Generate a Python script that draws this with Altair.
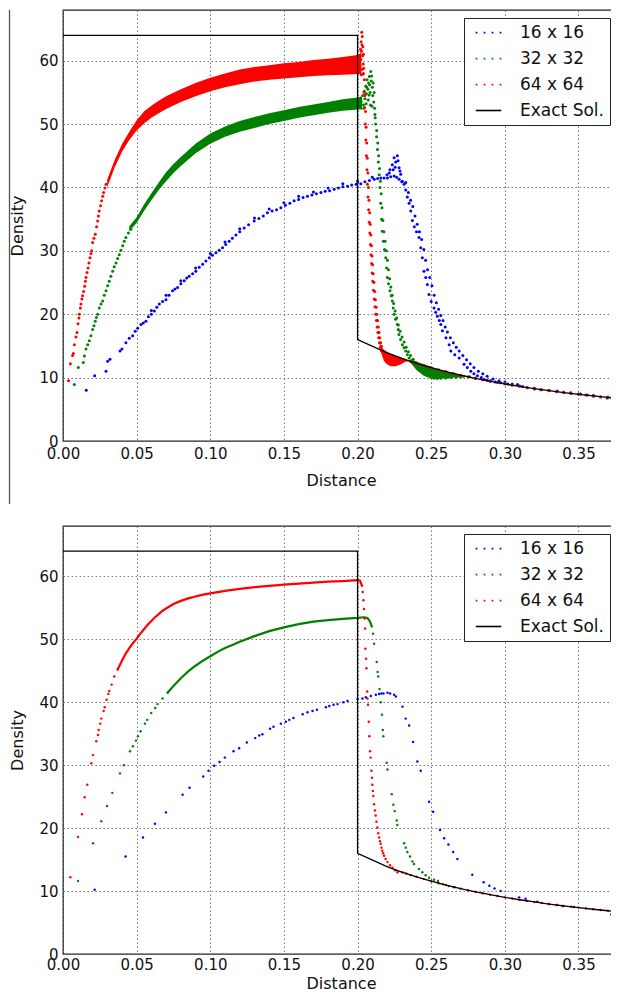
import altair as alt
import pandas as pd

SERIES = ["16 x 16", "32 x 32", "64 x 64", "Exact Sol."]
COLORS = ["#0000ff", "#008000", "#ff0000", "#000000"]
X_TICKS = [0.0, 0.05, 0.10, 0.15, 0.20, 0.25, 0.30, 0.35]
Y_TICKS = [0, 10, 20, 30, 40, 50, 60]

# ---------------- exact solution ----------------
exact_x = [0.0, 0.2, 0.2, 0.22, 0.23, 0.24, 0.25, 0.26, 0.27, 0.28, 0.29, 0.30,
           0.31, 0.32, 0.33, 0.34, 0.35, 0.36, 0.37, 0.3775]
exact_y = [64, 64, 16, 13.89, 13.02, 12.25, 11.56, 10.94, 10.38, 9.88, 9.42, 9.00,
           8.62, 8.27, 7.94, 7.64, 7.37, 7.11, 6.87, 6.70]

red_on_line = [(0.236, 12.55), (0.24, 12.27), (0.245, 11.9), (0.25, 11.57), (0.255, 11.25),
               (0.26, 10.95), (0.265, 10.66), (0.27, 10.39), (0.275, 10.13), (0.28, 9.88),
               (0.285, 9.65), (0.29, 9.42), (0.295, 9.21), (0.30, 9.0), (0.305, 8.81),
               (0.31, 8.62), (0.315, 8.44), (0.32, 8.27), (0.325, 8.1), (0.33, 7.94),
               (0.335, 7.79), (0.34, 7.64), (0.345, 7.5), (0.35, 7.37), (0.355, 7.24),
               (0.36, 7.11), (0.365, 6.99), (0.37, 6.87), (0.375, 6.76)]

# ---------------- top panel ----------------
t_blue_main = [(0.0158, 8.0), (0.0215, 10.3), (0.0292, 11.0), (0.0303, 12.6), (0.0319, 12.9),
               (0.0387, 14.2), (0.04, 14.5), (0.0427, 15.5), (0.045, 16.2), (0.0473, 16.6),
               (0.049, 17.3), (0.0507, 17.8), (0.0529, 18.4), (0.0545, 18.6), (0.0563, 18.9),
               (0.058, 19.6), (0.06, 20.0), (0.062, 20.5), (0.0637, 21.1), (0.0654, 21.6),
               (0.0676, 22.0), (0.0699, 22.3), (0.072, 23.0), (0.0744, 23.7), (0.076, 24.0),
               (0.0778, 24.2), (0.08, 24.8), (0.0823, 25.3), (0.084, 25.7), (0.0857, 26.0),
               (0.088, 26.4), (0.0902, 26.8), (0.0925, 27.4), (0.0948, 27.9), (0.097, 28.4),
               (0.0993, 28.9), (0.1015, 29.3), (0.1038, 29.7), (0.106, 30.1), (0.1083, 30.5),
               (0.1105, 31.0), (0.1128, 31.5), (0.115, 32.0), (0.1174, 32.5), (0.12, 33.0),
               (0.123, 33.6), (0.126, 34.1), (0.1298, 34.7), (0.133, 35.1), (0.136, 35.5),
               (0.1388, 36.0), (0.142, 36.3), (0.145, 36.5), (0.1479, 36.8), (0.151, 37.2),
               (0.154, 37.5), (0.1569, 37.9), (0.16, 38.1), (0.163, 38.4), (0.166, 38.6),
               (0.169, 38.8), (0.172, 39.0), (0.1751, 39.2), (0.178, 39.4), (0.181, 39.5),
               (0.1841, 39.7), (0.187, 39.9), (0.19, 40.1), (0.1932, 40.2), (0.196, 40.4),
               (0.199, 40.5), (0.2022, 40.6), (0.205, 40.9), (0.208, 41.1), (0.2113, 41.3),
               (0.2136, 41.4), (0.2158, 41.5), (0.218, 41.5), (0.2203, 41.5), (0.2225, 41.7),
               (0.2248, 41.8), (0.2265, 41.6), (0.2282, 41.3), (0.23, 40.9), (0.2316, 40.5),
               (0.2327, 39.6), (0.2338, 38.5), (0.235, 37.5), (0.2361, 36.3), (0.2372, 34.8),
               (0.2385, 33.8), (0.24, 33.0), (0.2417, 32.1), (0.2429, 30.5), (0.244, 28.9),
               (0.2451, 26.8), (0.2463, 25.8), (0.2474, 24.7), (0.2485, 23.1), (0.25, 22.0),
               (0.2519, 21.0), (0.253, 20.3), (0.2542, 19.7), (0.2555, 19.0), (0.2565, 18.4),
               (0.2576, 17.4), (0.26, 16.3), (0.2622, 15.2), (0.2633, 14.2), (0.266, 13.6),
               (0.269, 13.1), (0.2723, 12.1), (0.2745, 11.6), (0.2769, 11.0), (0.279, 10.6),
               (0.2814, 10.3), (0.284, 10.0), (0.286, 9.7), (0.288, 9.6), (0.2904, 9.5),
               (0.2935, 9.3), (0.2972, 9.2), (0.302, 9.0), (0.3085, 8.9), (0.312, 8.6),
               (0.3153, 8.4), (0.32, 8.2), (0.3244, 8.1), (0.33, 7.95), (0.3356, 7.9),
               (0.34, 7.7), (0.3447, 7.6), (0.3514, 7.4), (0.356, 7.25), (0.3605, 7.1),
               (0.365, 6.95), (0.3695, 6.8), (0.373, 6.5), (0.3763, 6.4)]
t_blue_spike = [(0.2215, 42.3), (0.222, 42.8), (0.2236, 43.6), (0.2242, 42.8), (0.2248, 44.7),
                (0.2255, 43.2), (0.2259, 44.0), (0.227, 45.0), (0.2275, 44.2), (0.2282, 43.1),
                (0.2288, 42.6), (0.2293, 42.1), (0.2304, 41.0)]
t_blue_side = [(0.06, 20.6), (0.07, 23.0), (0.08, 25.3), (0.09, 27.3), (0.1, 29.6), (0.11, 31.4),
               (0.12, 33.5), (0.13, 35.2), (0.14, 36.6), (0.15, 37.6), (0.16, 38.6), (0.17, 39.3),
               (0.18, 39.9), (0.19, 40.6), (0.2, 41.0), (0.21, 41.6), (0.22, 42.0),
               (0.2327, 40.8), (0.2345, 39.2), (0.236, 38.0), (0.2375, 37.0), (0.239, 35.5),
               (0.2405, 34.2), (0.242, 33.0), (0.2435, 31.8), (0.245, 30.2), (0.2462, 28.5),
               (0.2475, 27.0), (0.249, 25.8), (0.2505, 24.5), (0.252, 23.0), (0.2535, 21.8),
               (0.255, 20.8), (0.2565, 19.8), (0.258, 19.0), (0.2595, 18.0), (0.261, 17.2),
               (0.263, 16.3), (0.265, 15.5), (0.267, 14.8), (0.269, 14.2), (0.2715, 13.5),
               (0.274, 12.8), (0.2765, 12.2), (0.279, 11.6), (0.282, 11.0), (0.285, 10.6),
               (0.288, 10.2), (0.292, 9.8), (0.296, 9.5), (0.30, 9.3), (0.305, 9.0)]

t_green_rise = [(0.0077, 8.9), (0.0104, 11.6), (0.0138, 12.4), (0.0145, 13.4), (0.0156, 14.5),
                (0.0168, 15.2), (0.0179, 15.8), (0.019, 16.6), (0.0201, 17.6), (0.021, 18.2),
                (0.0219, 18.9), (0.0227, 19.5), (0.0235, 20.0), (0.0246, 21.0), (0.0258, 21.6),
                (0.0269, 22.1), (0.028, 23.0), (0.0292, 23.7), (0.0303, 24.5), (0.0314, 25.2),
                (0.0325, 26.0), (0.0337, 26.8), (0.0348, 27.5), (0.036, 28.1), (0.0371, 28.8),
                (0.0382, 29.4), (0.0393, 30.1), (0.0405, 30.8), (0.0416, 31.5), (0.0427, 32.1),
                (0.0444, 32.8), (0.0461, 33.4)]
t_green_spike = [(0.2025, 53.5), (0.2035, 54.5), (0.204, 53.0), (0.2045, 55.2), (0.205, 54.0),
                 (0.2055, 56.0), (0.206, 54.8), (0.2065, 57.0), (0.207, 55.5), (0.2075, 56.5),
                 (0.208, 57.5), (0.2085, 55.0), (0.209, 58.3), (0.2093, 56.8), (0.2096, 57.6),
                 (0.21, 55.8), (0.2103, 54.5), (0.2106, 56.5), (0.211, 53.5), (0.2113, 55.0),
                 (0.2116, 52.5), (0.212, 51.0), (0.2042, 52.5), (0.2058, 53.2), (0.2072, 53.8),
                 (0.2088, 53.0), (0.2098, 52.8), (0.2078, 54.6), (0.2062, 55.8), (0.2082, 56.2)]
t_green_fall_a = [(0.2118, 51.5), (0.2123, 50.0), (0.2129, 48.0), (0.2135, 46.0), (0.2141, 44.0),
                  (0.2147, 42.0), (0.2152, 40.0), (0.2157, 37.5), (0.2163, 35.0), (0.2168, 33.1),
                  (0.2175, 31.5), (0.2183, 30.2), (0.2191, 28.9), (0.2197, 27.3), (0.2202, 25.8),
                  (0.221, 24.8), (0.222, 23.7), (0.2228, 22.9), (0.2236, 22.1), (0.2242, 21.0),
                  (0.2248, 20.0), (0.2258, 19.2), (0.227, 18.4), (0.2276, 17.6), (0.2281, 16.8),
                  (0.2292, 16.0), (0.2304, 15.2), (0.2315, 14.7), (0.2327, 14.2), (0.2338, 13.6),
                  (0.235, 13.1), (0.2367, 12.5), (0.2384, 12.1), (0.2405, 11.5), (0.2429, 11.0),
                  (0.245, 10.6), (0.2474, 10.3), (0.2497, 10.05), (0.2519, 9.9), (0.2542, 9.85),
                  (0.2565, 9.9), (0.26, 9.95), (0.2633, 10.0), (0.2667, 10.05), (0.2701, 10.1)]
t_green_fall_b = [(0.213, 49.0), (0.2137, 47.0), (0.2143, 45.0), (0.2149, 43.0), (0.2155, 41.0),
                  (0.216, 39.0), (0.2166, 36.8), (0.2172, 34.8), (0.2179, 33.0), (0.2187, 31.5),
                  (0.2195, 30.0), (0.2203, 28.5), (0.221, 27.0), (0.2218, 25.6), (0.2226, 24.3),
                  (0.2235, 23.0), (0.2245, 21.7), (0.2255, 20.5), (0.2265, 19.4), (0.2277, 18.3),
                  (0.2289, 17.3), (0.2302, 16.4), (0.2316, 15.6), (0.233, 14.8), (0.2345, 14.1),
                  (0.236, 13.5), (0.2378, 12.9), (0.2397, 12.4), (0.242, 11.9), (0.2445, 11.4),
                  (0.247, 11.0), (0.25, 10.7), (0.253, 10.5), (0.256, 10.4), (0.26, 10.3),
                  (0.264, 10.25), (0.268, 10.2), (0.272, 10.2), (0.276, 10.15)]
t_green_tail = [(0.28, 9.95), (0.29, 9.5), (0.30, 9.1), (0.31, 8.7), (0.32, 8.35), (0.33, 8.0),
                (0.34, 7.7), (0.35, 7.45), (0.36, 7.2), (0.37, 6.95), (0.375, 6.85)]

t_red_rise = [(0.0038, 9.5), (0.005, 12.2), (0.0065, 13.5), (0.007, 13.8), (0.0077, 15.2),
              (0.0088, 16.4), (0.0095, 17.1), (0.0102, 18.5), (0.0108, 19.4), (0.0111, 20.0),
              (0.0118, 21.0), (0.0122, 21.6), (0.0128, 22.4), (0.0133, 22.9), (0.014, 23.6),
              (0.0147, 24.4), (0.0152, 25.2), (0.0156, 25.8), (0.0163, 26.6), (0.017, 27.3),
              (0.0176, 28.1), (0.0183, 28.9), (0.019, 29.6), (0.0194, 30.0), (0.0201, 31.3),
              (0.021, 32.0), (0.0219, 32.6), (0.0228, 33.8), (0.0235, 34.7), (0.024, 35.5),
              (0.0246, 36.3), (0.0255, 37.1), (0.0262, 37.9), (0.027, 38.6), (0.0276, 39.2),
              (0.0285, 39.9), (0.0292, 40.5)]
t_red_spike = [(0.2012, 58.5), (0.2015, 60.5), (0.2018, 59.2), (0.202, 61.8), (0.2022, 60.2),
               (0.2024, 63.0), (0.2026, 61.5), (0.2028, 64.5), (0.203, 62.5), (0.2032, 63.8),
               (0.2034, 60.8), (0.2036, 62.2), (0.2038, 59.5), (0.204, 61.0), (0.2042, 58.8),
               (0.2025, 57.8), (0.2031, 58.6), (0.2037, 57.9)]
t_red_fall_a = [(0.204, 58.0), (0.2044, 55.0), (0.2048, 52.6), (0.2052, 50.0), (0.2056, 47.5),
                (0.206, 45.0), (0.2064, 42.8), (0.2067, 40.5), (0.2071, 38.5), (0.2075, 36.5),
                (0.2079, 34.5), (0.2083, 32.8), (0.2087, 31.0), (0.2091, 29.4), (0.2095, 28.0),
                (0.2099, 26.5), (0.2103, 25.2), (0.2108, 23.8), (0.2113, 22.4), (0.2118, 21.2),
                (0.2123, 20.0), (0.2128, 19.0), (0.2133, 18.0), (0.2138, 17.1), (0.2143, 16.3),
                (0.2148, 15.5), (0.2155, 14.8), (0.2162, 14.2)]
t_red_fall_b = [(0.2046, 57.0), (0.205, 54.5), (0.2054, 52.0), (0.2058, 49.5), (0.2062, 47.0),
                (0.2066, 44.6), (0.207, 42.3), (0.2074, 40.0), (0.2078, 38.0), (0.2082, 36.0),
                (0.2086, 34.2), (0.209, 32.5), (0.2094, 30.8), (0.2098, 29.2), (0.2102, 27.8),
                (0.2106, 26.4), (0.2111, 25.0), (0.2116, 23.6), (0.2121, 22.3), (0.2126, 21.1),
                (0.2131, 20.0), (0.2136, 19.0), (0.2141, 18.0), (0.2146, 17.1), (0.2151, 16.3),
                (0.2157, 15.5), (0.2163, 14.9)]

# dense bands of the top panel (x, lower, upper)
t_red_band = [(0.030, 40.0, 41.2), (0.035, 43.1, 44.3), (0.040, 45.6, 46.8), (0.045, 47.5, 48.8),
              (0.050, 49.0, 50.6), (0.055, 50.1, 52.0), (0.060, 51.0, 52.9), (0.065, 51.7, 53.7),
              (0.070, 52.4, 54.4), (0.080, 53.5, 55.5), (0.090, 54.4, 56.5), (0.100, 55.2, 57.3),
              (0.110, 55.8, 58.0), (0.120, 56.3, 58.6), (0.130, 56.7, 59.0), (0.140, 57.0, 59.3),
              (0.150, 57.2, 59.6), (0.160, 57.4, 59.8), (0.170, 57.6, 60.1), (0.180, 57.7, 60.3),
              (0.190, 57.8, 60.6), (0.200, 57.9, 60.9), (0.2025, 57.9, 61.3)]
t_red_blob = [(0.2150, 14.6, 15.6), (0.2165, 13.6, 14.7), (0.2180, 12.6, 14.4), (0.2200, 12.1, 14.1),
              (0.2225, 11.8, 13.8), (0.2260, 11.8, 13.5), (0.2295, 12.1, 13.2), (0.2325, 12.5, 12.9),
              (0.2355, 12.6, 12.65)]
t_green_band = [(0.045, 33.1, 33.9), (0.050, 34.4, 35.3), (0.055, 36.3, 37.3), (0.060, 38.0, 39.1),
                (0.065, 39.6, 40.8), (0.070, 41.0, 42.4), (0.075, 42.3, 43.7), (0.080, 43.4, 44.8),
                (0.090, 45.4, 46.9), (0.100, 46.9, 48.5), (0.110, 48.0, 49.6), (0.120, 48.8, 50.5),
                (0.130, 49.4, 51.1), (0.140, 50.0, 51.7), (0.150, 50.5, 52.2), (0.160, 51.0, 52.7),
                (0.170, 51.4, 53.1), (0.180, 51.8, 53.5), (0.190, 52.1, 53.9), (0.200, 52.3, 54.2),
                (0.203, 52.3, 54.4)]
t_green_under = [(0.236, 12.3, 13.0), (0.240, 11.2, 12.5), (0.245, 10.3, 12.1), (0.250, 9.9, 11.7),
                 (0.255, 9.85, 11.3), (0.260, 9.9, 11.0), (0.265, 10.0, 10.7), (0.270, 10.1, 10.45),
                 (0.276, 10.1, 10.15)]

# ---------------- bottom panel ----------------
b_blue = [(0.0215, 10.2), (0.0425, 15.5), (0.0543, 18.5), (0.0624, 20.7), (0.0699, 22.5),
          (0.0812, 25.3), (0.0859, 26.4), (0.0952, 28.2), (0.0988, 29.1), (0.1027, 29.9),
          (0.1063, 30.5), (0.1099, 31.2), (0.1158, 32.2), (0.1196, 32.7), (0.1248, 33.6),
          (0.1305, 34.3), (0.1332, 34.7), (0.1354, 34.9), (0.1406, 35.8), (0.1429, 36.1),
          (0.1479, 36.6), (0.1513, 36.9), (0.1536, 37.2), (0.1565, 37.5), (0.1627, 38.1),
          (0.166, 38.4), (0.1694, 38.6), (0.1724, 38.8), (0.1785, 39.2), (0.1808, 39.4),
          (0.1837, 39.6), (0.1864, 39.7), (0.1904, 40.0), (0.1932, 40.2), (0.2, 40.5),
          (0.2033, 40.6), (0.2056, 40.8), (0.209, 41.0), (0.2124, 41.2), (0.2146, 41.3),
          (0.2162, 41.4), (0.2176, 41.4), (0.2203, 41.5), (0.2221, 41.4), (0.2248, 41.2),
          (0.226, 40.9), (0.2305, 39.3), (0.2327, 37.4), (0.235, 36.3), (0.2377, 33.7),
          (0.2406, 30.6), (0.2429, 29.1), (0.2486, 24.2), (0.2513, 22.6), (0.256, 19.7),
          (0.2588, 18.4), (0.2617, 17.4), (0.2649, 16.2), (0.2678, 15.1), (0.2779, 12.6),
          (0.2856, 11.4), (0.2895, 10.85), (0.293, 10.4), (0.2972, 10.0), (0.3097, 9.0),
          (0.3141, 8.77), (0.322, 8.3), (0.3299, 7.95), (0.3356, 7.8), (0.339, 7.63),
          (0.3469, 7.47), (0.3722, 6.26), (0.3767, 6.05)]
b_green_pts = [(0.0102, 11.6), (0.0204, 17.6), (0.026, 21.1), (0.0299, 23.5), (0.0335, 25.6),
               (0.0387, 28.7), (0.0414, 30.0), (0.0455, 32.2), (0.0475, 33.0), (0.0495, 33.9),
               (0.0509, 34.6), (0.0527, 35.4), (0.0556, 36.6), (0.0572, 37.2), (0.0599, 38.3),
               (0.0626, 39.1), (0.0642, 39.7), (0.0676, 40.6), (0.071, 41.5),
               (0.2105, 50.9), (0.2112, 49.3), (0.213, 46.4), (0.2136, 44.8), (0.214, 44.1),
               (0.2149, 42.1), (0.2157, 40.0), (0.2166, 38.0), (0.2171, 35.6), (0.2175, 34.6),
               (0.2198, 30.4), (0.2203, 29.3), (0.2232, 25.4), (0.2243, 23.7), (0.2252, 22.7),
               (0.2266, 21.2), (0.227, 20.5), (0.2316, 17.6), (0.2327, 16.9), (0.2338, 16.2),
               (0.2356, 15.5), (0.2372, 14.7), (0.2383, 14.3), (0.2417, 13.5), (0.244, 13.0),
               (0.2462, 12.5), (0.2485, 12.1), (0.2519, 11.8), (0.2546, 11.6), (0.258, 11.1),
               (0.262, 10.8), (0.266, 10.6)]
b_green_curve = [(0.071, 41.5), (0.075, 42.6), (0.08, 43.8), (0.085, 44.9), (0.09, 45.8),
                 (0.095, 46.6), (0.10, 47.3), (0.105, 48.0), (0.11, 48.6), (0.115, 49.1),
                 (0.12, 49.6), (0.13, 50.5), (0.14, 51.3), (0.15, 51.9), (0.16, 52.4),
                 (0.17, 52.8), (0.18, 53.05), (0.19, 53.25), (0.2, 53.4), (0.2044, 53.5),
                 (0.2067, 53.4), (0.2085, 52.8), (0.2099, 51.9)]
b_red_pts = [(0.005, 12.2), (0.0102, 18.6), (0.0129, 22.2), (0.0147, 24.9), (0.0165, 26.9),
             (0.0192, 30.3), (0.0204, 31.6), (0.0226, 33.8), (0.0237, 34.8), (0.0242, 35.6),
             (0.0253, 36.6), (0.026, 37.4), (0.0276, 38.6), (0.0283, 39.2), (0.0296, 40.4),
             (0.0308, 41.3), (0.0314, 41.8), (0.033, 42.8), (0.0348, 44.1), (0.0371, 45.2),
             (0.203, 58.5), (0.2035, 57.5), (0.204, 56.2), (0.2044, 54.8), (0.2049, 53.3),
             (0.2051, 51.7), (0.2053, 48.5), (0.2058, 46.9), (0.206, 45.4), (0.2065, 41.7),
             (0.2067, 40.6), (0.2071, 39.6), (0.2076, 36.9), (0.208, 34.6), (0.2085, 32.2),
             (0.2089, 31.2), (0.2094, 29.1), (0.2098, 28.0), (0.21, 26.9), (0.2104, 25.9),
             (0.2107, 25.1), (0.2112, 23.8), (0.2118, 22.8), (0.2123, 22.0), (0.2128, 21.0),
             (0.2134, 20.1), (0.214, 19.2), (0.2146, 18.5), (0.2152, 17.9), (0.2157, 17.5),
             (0.2163, 16.9), (0.2168, 16.4), (0.2174, 16.0), (0.218, 15.6), (0.219, 15.1),
             (0.2203, 14.6), (0.222, 14.1), (0.2237, 13.7), (0.2255, 13.3), (0.2271, 13.0),
             (0.2305, 12.98), (0.233, 12.78)]
b_red_curve = [(0.0371, 45.2), (0.040, 46.6), (0.0425, 47.7), (0.045, 48.6), (0.0475, 49.4),
               (0.05, 50.1), (0.0525, 50.9), (0.055, 51.6), (0.0575, 52.3), (0.06, 52.9),
               (0.0625, 53.5), (0.065, 54.0), (0.0675, 54.5), (0.07, 54.9), (0.075, 55.6),
               (0.08, 56.1), (0.085, 56.5), (0.09, 56.8), (0.095, 57.1), (0.10, 57.3),
               (0.11, 57.7), (0.12, 58.0), (0.13, 58.3), (0.14, 58.5), (0.15, 58.7),
               (0.16, 58.85), (0.17, 59.0), (0.18, 59.15), (0.19, 59.25), (0.2, 59.4),
               (0.2017, 59.3), (0.203, 58.5)]

# ---------------- helpers ----------------
FONT = "DejaVu Sans"
DOTS = ("M-1.61,-0.01h0.02v0.02h-0.02Z M-0.54,-0.01h0.02v0.02h-0.02Z "
        "M0.52,-0.01h0.02v0.02h-0.02Z M1.59,-0.01h0.02v0.02h-0.02Z")
LINE = "M-1.7,0H1.7"
SHAPE_EXPR = "datum.value == 'Exact Sol.' ? '" + LINE + "' : '" + DOTS + "'"

LEG = alt.Legend(
    title=None, orient="none", legendX=401, legendY=8,
    padding=6, symbolOffset=10, labelOffset=23, rowPadding=8,
    symbolSize=225, symbolType={"expr": SHAPE_EXPR}, symbolStrokeWidth=1.6,
    symbolOpacity=1,
    labelFontSize=17, labelFont=FONT, labelColor="#111",
    strokeColor="#222", fillColor="#ffffff", cornerRadius=0,
)
COLOR = alt.Color("s:N", scale=alt.Scale(domain=SERIES, range=COLORS), legend=LEG)


def pts_df(groups):
    rows = []
    for name, pairs in groups:
        for a, b in pairs:
            rows.append({"x": a, "y": b, "s": name})
    return pd.DataFrame(rows)


def band_df(triples):
    return pd.DataFrame([{"x": a, "y": lo, "y2": hi} for a, lo, hi in triples])


def curve_df(pairs):
    return pd.DataFrame([{"x": a, "y": b, "i": k} for k, (a, b) in enumerate(pairs)])


def panel(groups, bands, curves, size, x_label_pad, x_title_pad, height, artifact=False):
    X = alt.X("x:Q", scale=alt.Scale(domain=[0, 0.3775], nice=False, zero=False),
              axis=alt.Axis(values=X_TICKS, format=".2f", title="Distance",
                            titlePadding=x_title_pad, labelPadding=x_label_pad))
    Y = alt.Y("y:Q", scale=alt.Scale(domain=[0, 68], nice=False),
              axis=alt.Axis(values=Y_TICKS, format="d", title="Density",
                            titlePadding=13, labelPadding=5))
    layers = []
    for triples, col in bands:
        layers.append(alt.Chart(band_df(triples)).mark_area(color=col, opacity=1, clip=True)
                      .encode(x=X, y=Y, y2="y2:Q"))
    for pairs, col in curves:
        layers.append(alt.Chart(curve_df(pairs)).mark_line(color=col, strokeWidth=2.2, clip=True)
                      .encode(x=X, y=Y, order="i:Q"))
    layers.append(alt.Chart(pts_df(groups)).mark_circle(size=size, opacity=1, clip=True)
                  .encode(x=X, y=Y, color=COLOR))
    ex = pd.DataFrame({"x": exact_x, "y": exact_y, "s": "Exact Sol.",
                       "i": list(range(len(exact_x)))})
    layers.append(alt.Chart(ex).mark_line(strokeWidth=1.3, clip=True)
                  .encode(x=X, y=Y, color=COLOR, order="i:Q"))
    if artifact:
        layers.append(alt.Chart(pd.DataFrame({"k": [0]})).mark_rule(color="#555", strokeWidth=1.3)
                      .encode(x=alt.value(-53.5), y=alt.value(0), y2=alt.value(494)))
    return alt.layer(*layers).properties(width=556, height=height)


top = panel(
    [("16 x 16", t_blue_main + t_blue_spike + t_blue_side),
     ("32 x 32", t_green_rise + t_green_spike + t_green_fall_a + t_green_fall_b + t_green_tail),
     ("64 x 64", t_red_rise + t_red_spike + t_red_fall_a + t_red_fall_b + red_on_line)],
    [(t_green_band, "#008000"), (t_green_under, "#008000"),
     (t_red_band, "#ff0000"), (t_red_blob, "#ff0000")],
    [], 9, 5, 11, 431, artifact=True)

bottom = panel(
    [("16 x 16", b_blue),
     ("32 x 32", b_green_pts),
     ("64 x 64", b_red_pts + red_on_line)],
    [],
    [(b_green_curve, "#008000"), (b_red_curve, "#ff0000")],
    6, 3, 3, 428)

chart = alt.vconcat(top, bottom, spacing=19).resolve_scale(color="independent").properties(
    padding={"top": 0, "left": 0, "right": -9, "bottom": 0}
).configure_view(stroke="#222", strokeWidth=1.3).configure_axis(
    grid=True, gridColor="#666", gridDash=[1.5, 2.5], gridWidth=1, gridOpacity=0.9,
    ticks=False, domain=False, labelFont=FONT, labelFontSize=15, labelColor="#111",
    titleFont=FONT, titleFontSize=16, titleFontWeight="normal", titleColor="#111",
    labelOverlap=False, labelFlush=False,
)

chart.save("out.html", embed_options={"renderer": "svg", "actions": False})
